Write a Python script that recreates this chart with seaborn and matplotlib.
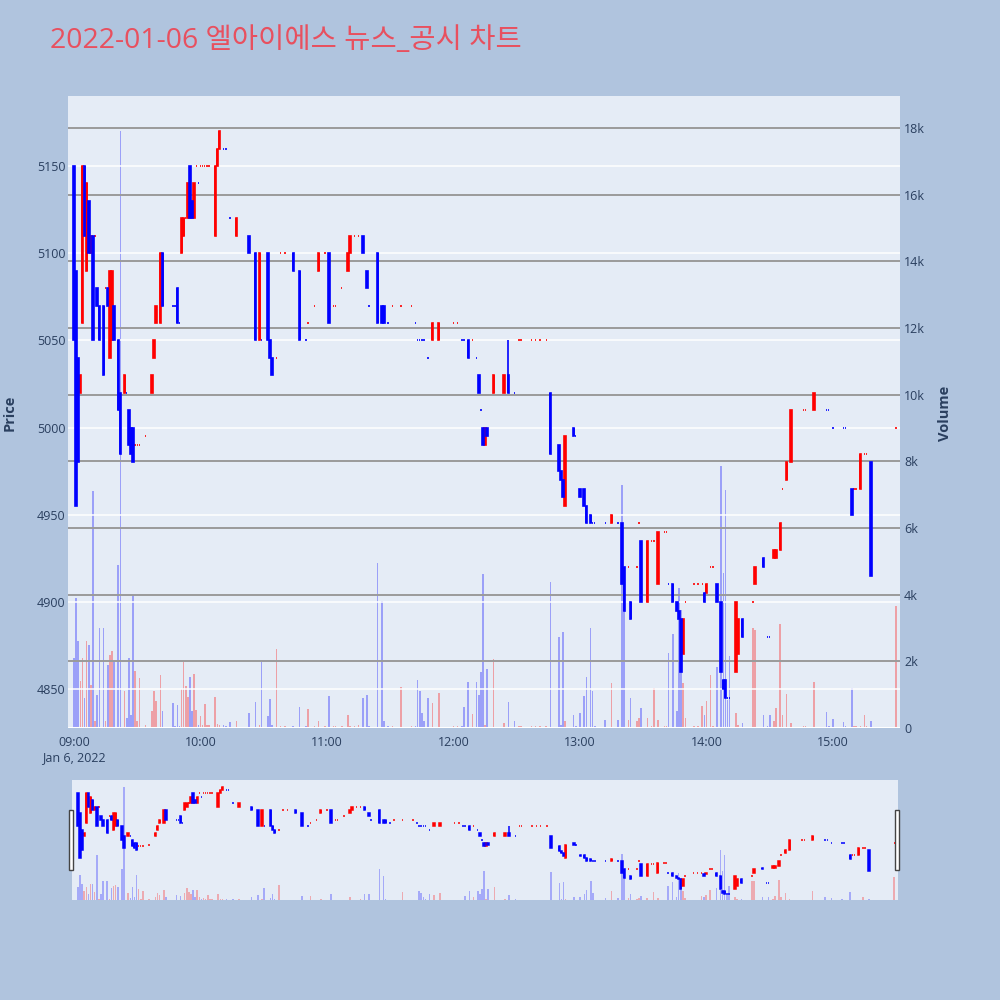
import matplotlib
matplotlib.use("Agg")
import matplotlib.pyplot as plt
import seaborn as sns
import pandas as pd
from matplotlib.patches import Rectangle

# ---------------- data (1-minute candles, 2022-01-06) ----------------
times = [
    "09:00","09:01","09:02","09:03","09:04","09:05","09:06","09:07","09:08","09:09",
    "09:10","09:11","09:12","09:14","09:15","09:16","09:17","09:18","09:19","09:21",
    "09:22","09:24","09:25","09:26","09:27","09:28","09:29","09:30","09:31","09:34",
    "09:37","09:38","09:39","09:41","09:42","09:47","09:48","09:49","09:50","09:51",
    "09:52","09:53","09:54","09:55","09:56","09:57","09:58","09:59","10:00","10:01",
    "10:02","10:03","10:04","10:07","10:08","10:09","10:11","10:12","10:14","10:17",
    "10:23","10:26","10:28","10:29","10:32","10:33","10:34","10:36","10:38","10:40",
    "10:44","10:47","10:50","10:51","10:54","10:56","10:59","11:01","11:03","11:04",
    "11:07","11:10","11:11","11:13","11:15","11:17","11:19","11:20","11:24","11:26",
    "11:27","11:29","11:31","11:35","11:40","11:42","11:43","11:44","11:45","11:46",
    "11:48","11:50","11:53","12:00","12:02","12:04","12:05","12:07","12:09","12:11",
    "12:12","12:13","12:14","12:15","12:16","12:19","12:24","12:26","12:29","12:31",
    "12:32","12:37","12:39","12:41","12:44","12:46","12:50","12:51","12:52","12:53",
    "12:57","12:58","13:00","13:02","13:03","13:05","13:06","13:07","13:12","13:15",
    "13:18","13:20","13:21","13:23","13:24","13:27","13:28","13:29","13:32","13:34",
    "13:35","13:37","13:40","13:41","13:42","13:44","13:46","13:47","13:48","13:49",
    "13:50","13:54","13:56","13:58","13:59","14:00","14:02","14:03","14:05","14:07",
    "14:08","14:09","14:10","14:11","14:14","14:15","14:17","14:22","14:23","14:27",
    "14:29","14:30","14:32","14:33","14:35","14:36","14:38","14:40","14:46","14:47",
    "14:51","14:57","14:58","15:00","15:05","15:06","15:09","15:10","15:11","15:13",
    "15:15","15:16","15:18","15:30",
]
opens = [
    5150,5090,5040,5020,5060,5150,5090,5130,5100,5110,
    5110,5080,5070,5070,5080,5080,5040,5050,5070,5050,
    5020,5020,5020,5010,5000,5000,4990,4990,4990,4995,
    5020,5040,5060,5060,5100,5070,5070,5080,5060,5100,
    5110,5120,5120,5150,5130,5120,5150,5140,5150,5150,
    5150,5150,5150,5110,5150,5160,5160,5160,5120,5110,
    5110,5100,5050,5050,5100,5050,5040,5040,5100,5100,
    5100,5090,5050,5060,5070,5090,5100,5100,5070,5070,
    5080,5090,5100,5110,5110,5110,5090,5070,5100,5070,
    5070,5060,5070,5070,5070,5060,5050,5050,5050,5050,
    5040,5050,5050,5060,5060,5050,5050,5050,5050,5040,
    5030,5010,5000,4990,5000,5020,5020,5030,5020,5050,
    5050,5050,5050,5050,5050,5020,4990,4975,4970,4955,
    5000,4995,4965,4965,4955,4950,4945,4945,4945,4945,
    4945,4945,4920,4920,4900,4920,4945,4935,4900,4935,
    4935,4910,4940,4940,4910,4910,4900,4895,4890,4870,
    4900,4910,4910,4910,4905,4905,4920,4920,4910,4900,
    4855,4855,4845,4845,4860,4870,4890,4900,4910,4925,
    4880,4880,4925,4925,4930,4965,4970,4980,5010,5010,
    5010,5010,5010,5000,5000,5000,4965,4965,4965,4965,
    4985,4985,4980,5000,
]
highs = [
    5150,5090,5040,5030,5150,5150,5140,5130,5110,5110,
    5110,5080,5070,5070,5080,5080,5090,5090,5070,5050,
    5020,5030,5020,5010,5000,5000,4990,4990,4990,4995,
    5030,5050,5070,5100,5100,5070,5070,5080,5060,5120,
    5120,5120,5140,5150,5130,5140,5150,5140,5150,5150,
    5150,5150,5150,5150,5160,5170,5160,5160,5120,5120,
    5110,5100,5100,5050,5100,5050,5040,5040,5100,5100,
    5100,5090,5050,5060,5070,5100,5100,5100,5070,5070,
    5080,5100,5110,5110,5110,5110,5090,5070,5100,5070,
    5070,5060,5070,5070,5070,5060,5050,5050,5050,5050,
    5040,5060,5060,5060,5060,5050,5050,5050,5050,5040,
    5030,5010,5000,5000,5000,5030,5030,5050,5020,5050,
    5050,5050,5050,5050,5050,5020,4990,4975,4970,4995,
    5000,4995,4965,4965,4955,4950,4945,4945,4945,4950,
    4945,4945,4920,4920,4900,4920,4945,4935,4935,4935,
    4935,4940,4940,4940,4910,4910,4900,4895,4890,4890,
    4900,4910,4910,4910,4905,4910,4920,4920,4910,4900,
    4855,4855,4845,4845,4900,4890,4890,4900,4920,4925,
    4880,4880,4930,4930,4945,4965,4980,5010,5010,5010,
    5020,5010,5010,5000,5000,5000,4965,4965,4965,4985,
    4985,4985,4980,5000,
]
lows = [
    5050,4955,4980,5020,5060,5110,5090,5100,5100,5050,
    5110,5070,5050,5030,5080,5070,5040,5050,5050,5010,
    4985,5020,5020,4990,4985,4980,4990,4990,4990,4995,
    5020,5040,5060,5060,5070,5070,5070,5060,5060,5100,
    5110,5120,5120,5120,5120,5120,5150,5140,5150,5150,
    5150,5150,5150,5110,5150,5160,5160,5160,5120,5110,
    5100,5050,5050,5050,5050,5040,5030,5040,5100,5100,
    5090,5050,5050,5060,5070,5090,5100,5060,5070,5070,
    5080,5090,5100,5110,5110,5100,5080,5070,5060,5060,
    5060,5060,5070,5070,5070,5060,5050,5050,5050,5050,
    5040,5050,5050,5060,5060,5050,5050,5040,5050,5040,
    5020,5010,4990,4990,4995,5020,5020,5020,5020,5050,
    5050,5050,5050,5050,5050,4985,4975,4970,4960,4955,
    4995,4995,4960,4955,4945,4945,4945,4945,4945,4945,
    4945,4910,4895,4920,4890,4920,4945,4900,4900,4935,
    4935,4910,4940,4940,4910,4900,4895,4890,4860,4870,
    4900,4910,4910,4910,4900,4905,4920,4920,4900,4860,
    4850,4845,4845,4845,4860,4870,4880,4900,4910,4920,
    4880,4880,4925,4925,4930,4965,4970,4980,5010,5010,
    5010,5010,5010,5000,5000,5000,4950,4965,4965,4965,
    4985,4985,4915,5000,
]
closes = [
    5050,4955,4980,5030,5150,5110,5140,5100,5110,5050,
    5110,5070,5050,5030,5080,5070,5090,5090,5050,5010,
    4985,5030,5020,4990,4985,4980,4990,4990,4990,4995,
    5030,5050,5070,5100,5070,5070,5070,5060,5060,5120,
    5120,5120,5140,5120,5120,5140,5150,5140,5150,5150,
    5150,5150,5150,5150,5160,5170,5160,5160,5120,5120,
    5100,5050,5100,5050,5050,5040,5030,5040,5100,5100,
    5090,5050,5050,5060,5070,5100,5100,5060,5070,5070,
    5080,5100,5110,5110,5110,5100,5080,5070,5060,5060,
    5060,5060,5070,5070,5070,5060,5050,5050,5050,5050,
    5040,5060,5060,5060,5060,5050,5050,5040,5050,5040,
    5020,5010,4990,5000,4995,5030,5030,5020,5020,5050,
    5050,5050,5050,5050,5050,4985,4975,4970,4960,4995,
    4995,4995,4960,4955,4945,4945,4945,4945,4945,4950,
    4945,4910,4895,4920,4890,4920,4945,4900,4935,4935,
    4935,4940,4940,4940,4910,4900,4895,4890,4860,4890,
    4900,4910,4910,4910,4900,4910,4920,4920,4900,4860,
    4850,4845,4845,4845,4900,4890,4880,4900,4920,4920,
    4880,4880,4930,4930,4945,4965,4980,5010,5010,5010,
    5020,5010,5010,5000,5000,5000,4950,4965,4965,4985,
    4985,4985,4915,5000,
]
volumes = [
    2100,3900,2600,1400,2100,900,2600,2500,1300,7100,
    200,1000,3000,3000,200,1900,2200,2300,2000,4900,
    17900,1100,300,2100,400,4000,1700,200,1500,100,
    500,1100,800,1600,500,760,50,680,50,1160,
    1970,1270,930,1530,500,1620,530,100,350,100,
    730,100,100,940,130,100,100,50,180,200,
    440,770,100,1970,370,880,100,2360,50,50,
    50,630,50,570,50,220,50,970,50,50,
    50,400,50,50,80,910,1000,50,4950,3820,
    200,50,50,1220,50,50,1440,1100,460,200,
    900,760,1040,50,50,50,640,1370,430,1370,
    1000,1670,4620,100,1760,2070,150,790,200,50,
    50,50,50,50,50,4370,2740,100,2890,200,
    400,50,460,960,1540,3000,1100,50,250,1360,
    250,7300,4800,250,900,200,300,600,300,50,
    1200,250,50,50,2260,2820,500,4200,3550,1360,
    300,50,50,650,400,800,1580,50,1820,7850,
    4650,7150,850,2170,450,100,150,3000,2950,400,
    50,400,200,600,3120,400,1030,150,50,50,
    1380,470,50,270,170,50,1200,50,50,50,
    400,50,200,3650,
]
title_text = "2022-01-06 엘아이에스 뉴스_공시 차트"
hour_labels = ["09:00", "10:00", "11:00", "12:00", "13:00", "14:00", "15:00"]
date_label = "Jan 6, 2022"
price_ticks = [4850, 4900, 4950, 5000, 5050, 5100, 5150]
volume_ticks = [0, 2000, 4000, 6000, 8000, 10000, 12000, 14000, 16000, 18000]
volume_tick_labels = ["0", "2k", "4k", "6k", "8k", "10k", "12k", "14k", "16k", "18k"]

# ---------------- style ----------------
sns.set_theme(style="white")
plt.rcParams['font.family'] = ['Open Sans', 'Noto Sans CJK KR', 'DejaVu Sans']

BG = '#B0C4DE'
PLOT_BG = '#E5ECF6'
INC = '#FF0000'
DEC = '#0000FF'
TXT = '#2a3f5f'

df = pd.DataFrame({"time": times, "open": opens, "high": highs, "low": lows,
                   "close": closes, "volume": volumes})
tt = pd.to_datetime(df["time"], format="%H:%M")
df["minute"] = (tt.dt.hour - 9) * 60 + tt.dt.minute

# candle direction (plotly rule: equal open/close compares with previous close)
dirs = []
prev_c, prev_d = None, "inc"
for o, c in zip(df["open"], df["close"]):
    if c > o:
        d = "inc"
    elif c < o:
        d = "dec"
    else:
        if prev_c is None or c == prev_c:
            d = prev_d
        else:
            d = "inc" if c > prev_c else "dec"
    dirs.append(d)
    prev_c, prev_d = c, d
df["dir"] = dirs

XLIM = (-2.85, 391.8)
PLIM = (4827.6, 5190.2)
VLIM = (0, 18960)


def draw_candles(ax, lw=1.2, width=0.7):
    for d, col in (("inc", INC), ("dec", DEC)):
        sub = df[df["dir"] == d]
        ax.vlines(sub["minute"], sub["low"], sub["high"], color=col, lw=lw, zorder=3)
        bottoms = sub[["open", "close"]].min(axis=1)
        heights = (sub["close"] - sub["open"]).abs()
        ax.bar(sub["minute"], heights, bottom=bottoms, width=width, color=col,
               edgecolor=col, linewidth=lw, zorder=4)


def draw_volume(ax, shrink=0.75, alpha=0.32):
    sns.histplot(data=df, x="minute", weights="volume", hue="dir",
                 hue_order=["inc", "dec"], palette={"inc": INC, "dec": DEC},
                 binwidth=1, binrange=(-0.5, 390.5), shrink=shrink, alpha=alpha,
                 multiple="layer", element="bars", edgecolor="none", linewidth=0,
                 legend=False, ax=ax)


fig = plt.figure(figsize=(10, 10), dpi=100, facecolor=BG)

# ---------------- main chart ----------------
ax_p = fig.add_axes([0.068, 0.272, 0.832, 0.632])
ax_v = ax_p.twinx()
ax_p.set_zorder(ax_v.get_zorder() + 1)
ax_p.patch.set_visible(False)
ax_v.set_facecolor(PLOT_BG)
ax_v.patch.set_visible(True)

draw_volume(ax_v)
ax_v.set_ylim(*VLIM)
ax_v.set_yticks(volume_ticks)
ax_v.set_yticklabels(volume_tick_labels)
ax_v.set_axisbelow(False)
ax_v.grid(True, axis="y", color="#9a9a9a", lw=1.4)
ax_v.grid(False, axis="x")
ax_v.axhline(0, color="white", lw=2.2, zorder=5)
ax_v.set_ylabel("")
ax_v.set_xlabel("")
ax_v.tick_params(axis="y", length=0, pad=3, labelsize=9, labelcolor=TXT)

draw_candles(ax_p)
ax_p.set_ylim(*PLIM)
ax_p.set_yticks(price_ticks)
ax_p.set_yticklabels([str(p) for p in price_ticks])
ax_p.grid(True, axis="y", color="white", lw=1.1)
ax_p.grid(False, axis="x")
ax_p.set_axisbelow(True)
ax_p.tick_params(axis="y", length=0, pad=2, labelsize=9, labelcolor=TXT)
ax_p.set_xticks([0, 60, 120, 180, 240, 300, 360])
ax_p.set_xticklabels(hour_labels)
ax_p.tick_params(axis="x", length=0, pad=6, labelsize=9, labelcolor=TXT)
ax_p.set_xlim(*XLIM)
ax_v.set_xlim(*XLIM)
for a in (ax_p, ax_v):
    for s in a.spines.values():
        s.set_visible(False)

fig.text(0.074, 1 - 0.758, date_label, ha="center", va="center", fontsize=9, color=TXT)
fig.text(0.010, 1 - 0.413, "Price", rotation=90, ha="center", va="center",
         fontsize=10.5, fontweight="bold", color=TXT)
fig.text(0.945, 1 - 0.413, "Volume", rotation=90, ha="center", va="center",
         fontsize=10.5, fontweight="bold", color=TXT)
fig.text(0.050, 1 - 0.041, title_text, ha="left", va="center", fontsize=20.5,
         color="#E8505F")

# ---------------- range slider ----------------
ax_s = fig.add_axes([0.072, 0.100, 0.826, 0.120])
ax_sv = ax_s.twinx()
ax_s.set_zorder(ax_sv.get_zorder() + 1)
ax_s.patch.set_visible(False)
ax_sv.set_facecolor(PLOT_BG)
ax_sv.patch.set_visible(True)
draw_volume(ax_sv, shrink=0.75, alpha=0.28)
draw_candles(ax_s, lw=1.1, width=0.7)
ax_s.set_ylim(*PLIM)
ax_sv.set_ylim(*VLIM)
for a in (ax_s, ax_sv):
    a.set_xlim(*XLIM)
    a.set_xticks([])
    a.set_yticks([])
    a.set_xlabel("")
    a.set_ylabel("")
    a.grid(False)
    for s in a.spines.values():
        s.set_visible(False)

for x0 in (0.0690, 0.8950):
    fig.add_artist(Rectangle((x0, 0.130), 0.0040, 0.060, transform=fig.transFigure,
                             facecolor="white", edgecolor="#444444", lw=1.0))

fig.savefig("out.png", dpi=100, facecolor=BG)
